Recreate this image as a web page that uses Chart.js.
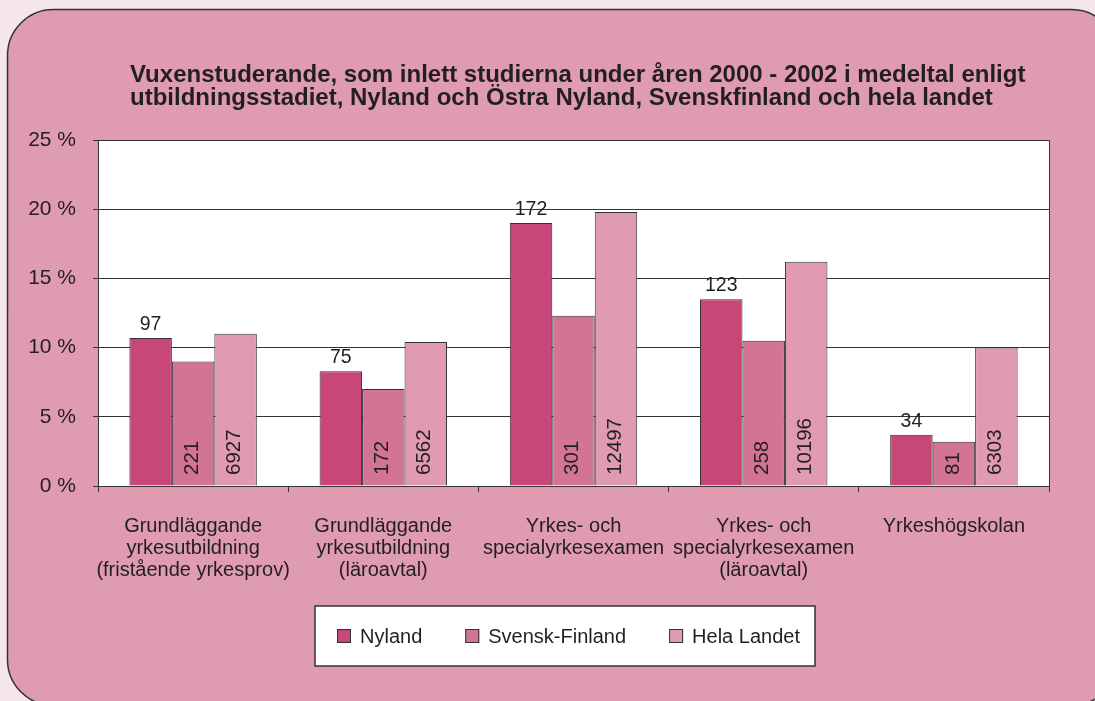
<!DOCTYPE html>
<html>
<head>
<meta charset="utf-8">
<script src="https://cdn.jsdelivr.net/npm/chart.js@4.4.1/dist/chart.umd.min.js"></script>
<style>
  html, body { margin: 0; padding: 0; background: #f5e6ee; }
  #wrap { width: 1095px; height: 701px; position: relative; }
</style>
</head>
<body>
<div id="wrap"><canvas id="chart"></canvas></div>
<script>
// data ==========================================================================
var categories = [
    ["Grundläggande", "yrkesutbildning", "(fristående yrkesprov)"],
    ["Grundläggande", "yrkesutbildning", "(läroavtal)"],
    ["Yrkes- och", "specialyrkesexamen"],
    ["Yrkes- och", "specialyrkesexamen", "(läroavtal)"],
    ["Yrkeshögskolan"]
];
var seriesNames = ["Nyland", "Svensk-Finland", "Hela Landet"];
var nylandPct = [10.7, 8.3, 19.0, 13.5, 3.7];
var svenskPct = [9.0, 7.0, 12.3, 10.5, 3.2];
var helaPct = [11.0, 10.4, 19.8, 16.2, 10.0];
var nylandCount = [97, 75, 172, 123, 34];
var svenskCount = [221, 172, 301, 258, 81];
var helaCount = [6927, 6562, 12497, 10196, 6303];
var yTicks = [0, 5, 10, 15, 20, 25];
var titleLines = [
    "Vuxenstuderande, som inlett studierna under åren 2000 - 2002 i medeltal enligt",
    "utbildningsstadiet, Nyland och Östra Nyland, Svenskfinland och hela landet"
];

var FONT = '"Liberation Sans", Arial, Helvetica, sans-serif';
var TEXT = '#231f20';
var LINE = '#333333';
var colors = ['#c84678', '#d47494', '#e09bb0'];
var counts = [nylandCount, svenskCount, helaCount];

// panel, title, frame, labels, legend ===========================================
var decor = {
    id: 'decor',
    beforeDraw: function (chart) {
        var c = chart.ctx;
        c.save();
        c.fillStyle = '#f5e6ee';
        c.fillRect(0, 0, chart.width, chart.height);
        c.beginPath();
        c.roundRect(7.5, 9.5, 1110, 696, 46);
        c.fillStyle = '#df9bb0';
        c.fill();
        c.lineWidth = 1.5;
        c.strokeStyle = LINE;
        c.stroke();

        var a = chart.chartArea;
        c.fillStyle = '#ffffff';
        c.fillRect(a.left, a.top, a.right - a.left, a.bottom - a.top);

        c.fillStyle = TEXT;
        c.font = 'bold 24px ' + FONT;
        c.textBaseline = 'alphabetic';
        c.textAlign = 'left';
        c.fillText(titleLines[0], 130, 82);
        c.fillText(titleLines[1], 130, 105);
        c.restore();
    },
    beforeDatasetsDraw: function (chart) {
        var c = chart.ctx, a = chart.chartArea;
        c.save();
        c.strokeStyle = LINE;
        c.lineWidth = 1;
        c.beginPath();
        c.moveTo(a.left, a.top + 0.5);
        c.lineTo(a.right + 0.5, a.top + 0.5);
        c.lineTo(a.right + 0.5, a.bottom);
        c.stroke();
        c.restore();
    },
    afterDatasetsDraw: function (chart) {
        var c = chart.ctx, a = chart.chartArea;
        c.save();
        c.fillStyle = TEXT;
        chart.data.datasets.forEach(function (ds, i) {
            chart.getDatasetMeta(i).data.forEach(function (bar, j) {
                var txt = String(counts[i][j]);
                if (i === 0) {
                    c.font = '19.5px ' + FONT;
                    c.textAlign = 'center';
                    c.textBaseline = 'alphabetic';
                    c.fillText(txt, bar.x, bar.y - 8);
                } else {
                    c.font = '20.5px ' + FONT;
                    c.save();
                    c.translate(bar.x - 1, a.bottom - 11);
                    c.rotate(-Math.PI / 2);
                    c.textAlign = 'left';
                    c.textBaseline = 'middle';
                    c.fillText(txt, 0, 0);
                    c.restore();
                }
            });
        });
        c.restore();
    },
    afterDraw: function (chart) {
        var c = chart.ctx;
        c.save();
        c.fillStyle = '#ffffff';
        c.fillRect(315, 606, 500, 60);
        c.strokeStyle = LINE;
        c.lineWidth = 1.5;
        c.strokeRect(315, 606, 500, 60);
        c.font = '20px ' + FONT;
        c.textBaseline = 'middle';
        c.textAlign = 'left';
        var x = 337, y = 636;
        chart.data.datasets.forEach(function (ds) {
            c.fillStyle = ds.backgroundColor;
            c.fillRect(x, y - 7, 14, 14);
            c.lineWidth = 1;
            c.strokeStyle = LINE;
            c.strokeRect(x + 0.5, y - 6.5, 13, 13);
            c.fillStyle = TEXT;
            c.fillText(ds.label, x + 23, y + 1);
            x += 23 + c.measureText(ds.label).width + 43;
        });
        c.restore();
    }
};

var ctx = document.getElementById('chart').getContext('2d');
var chart = new Chart(ctx, {
    type: 'bar',
    data: {
        labels: categories,
        datasets: [
            { label: seriesNames[0], data: nylandPct, backgroundColor: colors[0] },
            { label: seriesNames[1], data: svenskPct, backgroundColor: colors[1] },
            { label: seriesNames[2], data: helaPct, backgroundColor: colors[2] }
        ]
    },
    options: {
        responsive: true,
        maintainAspectRatio: false,
        animation: false,
        devicePixelRatio: 1,
        layout: { padding: { top: 140, right: 46, left: 0, bottom: 0 } },
        datasets: {
            bar: {
                borderColor: LINE,
                borderWidth: 1,
                categoryPercentage: 0.67,
                barPercentage: 1.0
            }
        },
        plugins: {
            legend: { display: false },
            title: { display: false },
            tooltip: { enabled: false }
        },
        scales: {
            x: {
                afterFit: function (s) { s.height = 215; },
                grid: { drawOnChartArea: false, color: LINE, tickLength: 6, offset: true },
                border: { color: LINE, width: 1 },
                ticks: {
                    color: TEXT,
                    font: { family: FONT, size: 20, lineHeight: 1.08 },
                    padding: 24,
                    maxRotation: 0,
                    autoSkip: false
                }
            },
            y: {
                min: 0,
                max: 25,
                afterFit: function (s) { s.width = 98; },
                afterBuildTicks: function (s) {
                    s.ticks = yTicks.map(function (v) { return { value: v }; });
                },
                grid: { color: LINE, tickLength: 5 },
                border: { color: LINE, width: 1 },
                ticks: {
                    color: TEXT,
                    font: { family: FONT, size: 21 },
                    padding: 17,
                    callback: function (v) { return v + ' %'; }
                }
            }
        }
    },
    plugins: [decor]
});
</script>
</body>
</html>
